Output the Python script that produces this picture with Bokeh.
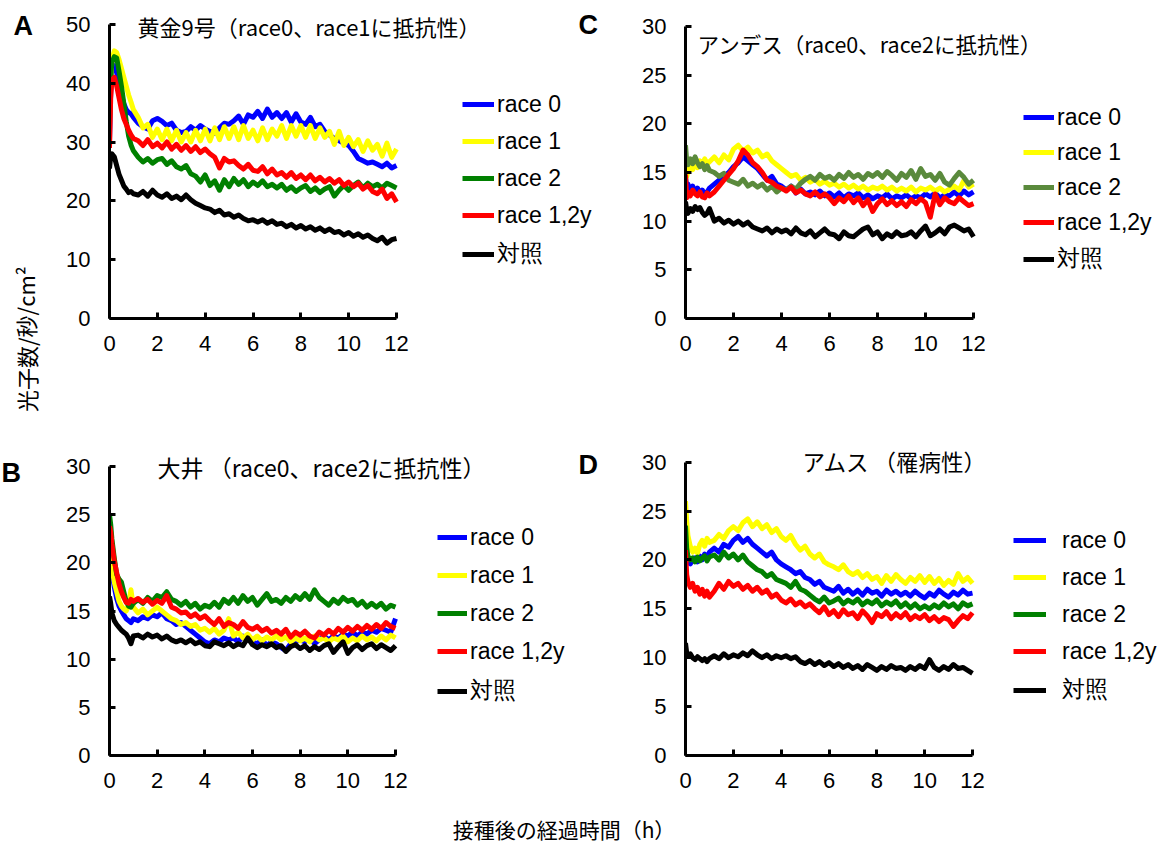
from bokeh.plotting import figure
from bokeh.models import Range1d, Label, Legend, LegendItem, FixedTicker
from bokeh.layouts import column, row
from bokeh.embed import file_html
from bokeh.resources import INLINE

# ---------------- data ----------------
hours = [0, 0.05, 0.1, 0.2, 0.3, 0.4, 0.5, 0.6, 0.7, 0.8, 0.9, 1.0,
         1.2, 1.4, 1.6, 1.8, 2.0,
         2.2, 2.4, 2.6, 2.8, 3.0,
         3.2, 3.4, 3.6, 3.8, 4.0,
         4.2, 4.4, 4.6, 4.8, 5.0,
         5.2, 5.4, 5.6, 5.8, 6.0,
         6.2, 6.4, 6.6, 6.8, 7.0,
         7.2, 7.4, 7.6, 7.8, 8.0,
         8.2, 8.4, 8.6, 8.8, 9.0,
         9.2, 9.4, 9.6, 9.8, 10.0,
         10.2, 10.4, 10.6, 10.8, 11.0,
         11.2, 11.4, 11.6, 11.8, 12.0]

series_names = ["race 0", "race 1", "race 2", "race 1,2y", "対照"]
x_ticks = [0, 2, 4, 6, 8, 10, 12]
y_ticks_a = [0, 10, 20, 30, 40, 50]
y_ticks_bcd = [0, 5, 10, 15, 20, 25, 30]

# A: 黄金9号
a_r0 = [30.0, 38.5, 42.0, 43.0, 42.0, 40.0, 38.0, 36.5, 35.5, 35.0, 34.8, 34.2,
        33.2, 32.6, 32.2, 33.6, 34.0,
        33.5, 32.8, 33.2, 32.0, 31.6,
        31.8, 32.6, 32.0, 32.8, 32.2,
        31.8, 31.5, 32.4, 33.2, 33.0,
        33.6, 34.4, 33.0, 34.6, 34.2,
        35.2, 34.0, 35.6, 34.2, 35.0,
        34.0, 35.0, 33.4, 34.8, 33.4,
        33.0, 34.2, 32.6, 33.0, 31.8,
        31.2, 30.6, 30.2, 29.8, 29.4,
        28.4, 27.2, 26.8, 26.4, 26.6,
        26.2, 25.8, 26.4, 25.6, 26.0]
a_r1 = [33.0, 40.0, 44.0, 45.5, 45.2, 44.0, 42.5, 41.0, 39.5, 38.0, 36.8, 35.5,
        34.2, 32.4, 33.0, 30.8, 32.2,
        30.4, 32.2, 30.2, 32.0, 30.0,
        31.6, 30.0, 32.0, 30.2, 32.2,
        30.2, 32.4, 30.4, 32.6, 30.6,
        32.6, 30.4, 32.8, 30.6, 32.0,
        30.2, 32.4, 30.4, 32.2, 31.0,
        32.8, 30.6, 32.8, 31.0, 32.8,
        30.8, 32.8, 30.6, 32.4, 30.8,
        31.8, 29.6, 31.8, 29.4, 30.8,
        29.2, 30.4, 28.4, 30.2, 28.6,
        29.6, 27.6, 29.8, 27.4, 28.8]
a_r2 = [34.0, 41.0, 43.5, 44.5, 44.3, 42.0, 39.5, 36.5, 33.5, 31.0, 29.5, 28.5,
        27.4, 26.6, 27.2, 26.4, 27.0,
        27.2, 26.2, 26.8, 25.8, 25.4,
        26.0, 24.6, 24.2, 23.2, 24.4,
        22.6, 23.4, 21.8, 23.6, 22.4,
        23.8, 22.8, 23.6, 22.4, 23.2,
        22.6, 23.4, 22.4, 22.8, 22.2,
        22.8, 21.8, 22.4, 21.6, 22.2,
        22.6, 21.6, 22.2, 21.4, 22.0,
        22.4, 20.8, 21.8, 22.6, 21.8,
        22.6, 23.2, 22.2, 23.0, 22.4,
        22.8, 22.2, 23.0, 22.6, 22.2]
a_r12 = [29.0, 37.5, 40.5, 41.0, 39.5, 37.5, 35.5, 34.0, 33.0, 32.0, 31.2, 30.6,
         30.2, 29.4, 30.4, 29.2, 29.8,
         29.0, 30.0, 28.8, 29.6, 28.6,
         29.4, 28.4, 29.2, 28.2, 28.8,
         28.0, 27.4, 25.6, 27.2, 26.6,
         26.8, 26.0, 25.4, 26.2, 25.2,
         25.0, 25.8, 24.6, 25.4, 24.4,
         24.8, 24.0, 24.8, 23.8, 24.4,
         23.6, 24.4, 23.4, 24.0, 23.2,
         23.8, 23.0, 23.6, 22.6, 23.2,
         22.4, 23.0, 22.0, 22.6, 21.6,
         21.2, 22.0, 20.4, 21.2, 19.8]
a_ctrl = [25.5, 27.5, 28.0, 27.5, 26.0, 24.5, 23.5, 22.5, 22.0, 21.4, 21.6, 21.2,
          21.0, 21.6, 20.8, 21.8, 21.0,
          20.6, 21.2, 20.4, 20.8, 20.2,
          21.0, 20.2, 19.6, 19.2, 18.8,
          18.6, 18.0, 18.4, 17.6, 17.8,
          17.2, 17.6, 17.0, 16.6, 16.8,
          16.4, 16.8, 16.2, 16.6, 16.0,
          16.2, 15.6, 16.0, 15.4, 15.8,
          15.2, 15.6, 15.0, 15.4, 14.8,
          15.2, 14.6, 14.8, 14.2, 14.6,
          14.0, 14.4, 13.8, 14.2, 13.6,
          13.2, 13.8, 12.8, 13.4, 13.6]

# B: 大井
b_r0 = [21.5, 20.5, 19.0, 17.5, 16.3, 15.5, 15.0, 14.6, 14.2, 14.0, 13.8, 14.2,
        14.0, 14.4, 14.2, 14.6, 14.4,
        14.8, 14.2, 14.0, 13.6, 13.8,
        13.4, 13.0, 12.6, 12.2, 11.8,
        11.6, 12.0, 11.8, 12.2, 12.0,
        12.2, 11.8, 12.4, 12.0, 11.8,
        11.6, 12.0, 11.4, 11.8, 11.6,
        11.2, 10.9, 11.6, 11.8, 12.0,
        11.8, 12.2, 11.6, 12.0, 12.4,
        12.0, 12.4, 12.2, 12.6, 12.4,
        12.8, 12.4, 12.8, 12.6, 13.0,
        12.8, 13.2, 13.0, 12.8, 14.2]
b_r1 = [22.0, 21.0, 19.5, 18.0, 17.0, 16.0, 15.5, 15.2, 15.0, 15.6, 17.2, 15.4,
        14.8, 15.2, 14.6, 15.0, 15.4,
        15.0, 14.6, 14.2, 14.0, 13.6,
        13.8, 13.4, 13.6, 13.0, 13.2,
        12.8, 13.2, 12.6, 13.0, 14.2,
        12.4, 12.8, 12.2, 12.6, 12.0,
        12.4, 11.9, 12.3, 12.0, 12.4,
        12.0, 12.3, 11.8, 12.2, 11.9,
        12.2, 11.8, 12.4, 12.0, 12.2,
        11.8, 12.2, 12.0, 12.4, 11.8,
        12.2, 11.9, 12.4, 12.0, 12.3,
        11.9, 12.4, 12.0, 12.5, 12.2]
b_r2 = [25.0, 24.0, 22.5, 20.5, 18.8, 18.3, 18.0, 17.0, 16.0, 15.5, 15.4, 15.8,
        16.2, 15.8, 16.4, 16.0, 16.6,
        16.4, 17.0, 16.2, 16.0, 15.6,
        16.0, 15.4, 15.8, 15.2, 15.6,
        15.4, 15.9, 15.4, 16.2, 15.8,
        16.4, 15.8, 16.6, 16.0, 16.4,
        15.6, 16.2, 16.8, 16.0, 16.2,
        15.8, 16.4, 16.0, 16.6, 16.2,
        16.8, 16.2, 17.2, 16.4, 16.0,
        15.6, 16.2, 15.8, 16.4, 16.0,
        16.2, 15.6, 16.0, 15.4, 15.8,
        15.4, 15.8, 15.2, 15.6, 15.4]
b_r12 = [23.8, 23.2, 22.0, 20.2, 19.0, 17.8, 17.0, 16.4, 15.9, 15.8, 16.2, 16.0,
         16.3, 15.9, 16.2, 15.7, 16.1,
         15.8, 16.6, 15.4, 15.2, 14.8,
         14.9, 14.4, 14.7, 14.2, 14.5,
         14.0, 13.6, 14.2, 13.4, 13.8,
         13.6, 13.2, 13.9, 13.3, 13.1,
         13.4, 12.9, 13.2, 12.7, 13.0,
         12.6, 13.1, 12.3, 12.8, 12.5,
         12.9, 12.4, 12.2, 12.8, 12.5,
         13.0, 12.6, 13.2, 12.8, 13.3,
         12.9, 13.4, 13.0, 13.5, 13.1,
         13.6, 13.2, 13.8, 13.4, 13.2]
b_ctrl = [16.5, 15.8, 14.8, 14.0, 13.6, 13.3, 13.0, 12.8, 12.6, 12.2, 11.6, 12.4,
          12.5, 12.2, 12.6, 12.3, 12.5,
          12.1, 12.4, 12.0, 11.8, 12.0,
          11.7, 12.0, 11.6, 11.8, 11.4,
          11.3, 11.8, 11.6, 11.4, 11.7,
          11.3, 11.6, 11.4, 12.2, 11.5,
          11.2, 11.5, 11.3, 11.6, 11.2,
          11.4, 10.8, 11.3, 11.5, 11.1,
          11.4, 10.9, 11.3, 11.0, 11.4,
          11.6, 10.7, 11.3, 11.8, 10.6,
          11.2, 11.5, 11.0, 11.4, 11.6,
          11.1, 11.5, 11.2, 10.9, 11.4]

# C: アンデス
c_r0 = [14.5, 13.5, 13.8, 13.2, 13.6, 13.0, 13.4, 12.8, 13.2, 12.8, 13.0, 13.4,
        13.8, 14.2, 14.6, 15.0, 15.6,
        16.0, 16.6, 16.2, 15.8, 15.4,
        14.8, 14.2, 14.6, 13.8, 13.6,
        13.2, 13.6, 12.9, 13.3, 12.8,
        13.0, 12.7, 13.1, 12.6, 12.9,
        12.5, 12.9, 12.4, 12.8, 12.6,
        12.9, 12.4, 12.7, 12.3, 12.6,
        12.4, 12.8, 12.3, 12.6, 12.4,
        12.7, 12.3, 12.6, 12.4, 12.8,
        12.5, 12.9, 12.4, 12.7, 12.6,
        13.0, 12.6, 13.1, 12.7, 13.0]
c_r1 = [15.0, 14.6, 15.2, 15.6, 15.3, 16.0, 15.5, 16.2, 15.8, 16.4, 15.9, 16.1,
        16.6, 16.0, 16.8, 16.3, 17.4,
        17.8, 17.2, 17.6, 17.0, 17.3,
        16.6, 16.9, 16.2, 15.8, 15.4,
        15.0, 14.6, 14.8, 14.2, 14.5,
        14.0, 14.3, 13.8, 14.1, 13.7,
        13.9, 13.5, 13.8, 13.4, 13.7,
        13.3, 13.6, 13.2, 13.5, 13.3,
        13.6, 13.2, 13.5, 13.1, 13.4,
        13.1, 13.5, 13.0, 13.4, 13.2,
        13.5, 13.1, 13.4, 13.0, 13.3,
        13.6, 13.2, 14.2, 13.5, 13.8]
c_r2 = [17.8, 16.2, 15.8, 16.4, 15.9, 16.6, 16.0, 15.6, 15.9, 15.3, 15.7, 15.2,
        15.0, 14.6, 14.9, 14.2, 14.0,
        13.8, 14.3, 13.6, 13.9, 13.5,
        13.8, 13.2, 13.6, 13.0, 13.4,
        13.2, 13.6, 13.3, 13.9, 14.3,
        14.6, 14.2, 14.8, 14.4, 14.6,
        14.2, 14.8, 14.4, 15.0, 14.5,
        14.8, 14.3, 14.9, 14.6, 15.0,
        14.5, 15.1, 14.7, 14.2, 14.9,
        14.5, 15.2, 14.3, 15.4, 14.6,
        14.8, 14.2, 14.9, 14.0, 13.7,
        14.4, 15.0, 14.5, 13.8, 14.2]
c_r12 = [14.8, 12.4, 13.0, 12.6, 13.2, 12.8, 12.6, 13.0, 12.5, 12.4, 12.9, 12.6,
         13.0, 13.6, 14.2, 14.8, 15.4,
         16.2, 17.3, 16.8, 16.0, 15.6,
         15.0, 14.2, 14.0, 13.6, 13.4,
         13.1, 13.5, 12.9, 13.2, 12.8,
         12.6, 13.0, 12.5, 12.8, 12.4,
         11.8, 12.4, 12.0, 12.6, 11.9,
         12.4, 11.6, 12.2, 11.0, 11.8,
         12.3, 11.7, 12.1, 11.6, 12.0,
         11.5, 12.2, 11.8, 12.3, 11.9,
         10.4, 12.8, 11.7, 12.4, 12.0,
         11.8, 12.4, 12.0, 11.6, 11.8]
c_ctrl = [12.0, 11.2, 10.8, 11.3, 11.0, 11.5, 11.2, 11.4, 10.9, 10.6, 10.8, 11.3,
          10.0, 10.3, 9.8, 10.1, 9.7,
          10.0, 9.6, 9.9, 9.4, 9.2,
          9.0, 9.3, 8.8, 9.2, 8.9,
          9.1, 8.7, 9.3, 8.8, 8.6,
          9.0, 8.4, 8.8, 9.2, 8.7,
          8.6, 8.2, 8.9, 8.5, 8.4,
          8.8, 9.2, 9.4, 8.6, 8.9,
          8.2, 8.7, 8.4, 8.9, 8.5,
          8.6, 8.9, 8.4, 9.0, 9.5,
          8.5, 8.8, 9.2, 8.7, 9.4,
          9.6, 9.3, 9.0, 9.2, 8.4]

# D: アムス
d_r0 = [22.5, 20.5, 19.8, 19.6, 20.0, 20.2, 19.8, 20.4, 20.0, 20.6, 20.2, 20.8,
        21.2, 20.8, 21.6, 21.3, 22.0,
        22.4, 21.8, 22.2, 21.6, 21.2,
        20.8, 20.4, 20.8, 20.0, 19.6,
        19.3, 19.0, 18.6, 18.8, 18.2,
        18.0, 17.5, 17.8, 17.2, 17.0,
        16.8, 17.3, 16.6, 17.0, 16.5,
        16.9, 16.4, 17.0, 16.6, 16.8,
        16.3, 16.9, 16.5, 16.8, 16.4,
        16.7, 16.3, 16.8, 16.4, 16.1,
        16.6, 16.3, 16.9, 16.5, 16.2,
        16.7, 16.4, 16.9, 16.5, 16.6]
d_r1 = [26.0, 24.0, 22.5, 21.4, 20.8, 21.2, 20.7, 21.6, 22.0, 21.4, 22.2, 21.8,
        22.0, 22.6, 22.2, 23.0, 23.4,
        23.0, 23.8, 24.2, 23.4, 23.9,
        23.2, 23.6, 22.8, 23.2, 22.4,
        22.0, 22.5, 21.6, 21.0, 21.4,
        20.6, 20.2, 20.6, 19.8, 19.5,
        19.3, 19.0, 19.5, 18.8, 18.5,
        18.8, 18.2, 18.6, 18.0, 18.3,
        17.6, 18.4, 17.8, 18.5, 18.0,
        17.6, 18.2, 17.8, 18.4, 17.7,
        18.3, 17.6, 18.1, 17.4, 17.9,
        17.5, 18.6, 17.8, 18.2, 17.6]
d_r2 = [23.5, 21.2, 20.4, 20.0, 20.2, 19.8, 20.3, 19.9, 20.2, 20.4, 19.9, 20.3,
        20.5, 20.0, 20.8, 20.2, 20.6,
        20.0, 20.5, 19.8, 19.4, 19.0,
        18.8, 18.3, 18.6, 18.0, 17.8,
        17.6, 17.2, 17.8, 17.0, 16.8,
        16.4, 16.0, 15.7, 16.2, 15.6,
        15.8, 16.1, 15.5, 15.9, 15.6,
        16.0, 15.4, 15.8, 15.5, 15.9,
        15.3, 15.7, 15.4, 15.8, 15.2,
        15.6, 15.1, 15.5, 15.0, 15.3,
        15.0, 15.4, 15.1, 15.6, 15.2,
        15.5, 15.0, 15.6, 15.3, 15.5]
d_r12 = [21.0, 18.5, 17.8, 17.2, 17.6, 16.8, 17.2, 16.5, 17.0, 16.3, 16.8, 16.2,
         16.8, 17.6, 17.0, 17.8, 17.3,
         17.6, 17.0, 17.4, 16.8, 17.2,
         16.6, 16.9, 16.2, 16.5, 15.9,
         15.6, 16.0, 15.4, 15.7, 15.2,
         15.5, 15.0, 14.6, 15.2, 14.4,
         14.8, 14.2, 14.9, 14.4, 14.6,
         14.0, 14.8, 14.3, 13.6, 14.5,
         14.2, 14.7, 14.0, 14.5, 14.1,
         14.6, 13.9, 14.3, 14.0, 14.4,
         13.8, 14.2, 13.7, 14.1, 13.9,
         13.2, 13.8, 14.3, 14.0, 14.6]
d_ctrl = [11.5, 10.5, 10.2, 10.4, 10.0, 9.8, 10.1, 9.9, 9.7, 9.9, 9.6, 9.9,
          10.2, 9.9, 10.4, 10.0, 10.3,
          10.1, 10.5, 10.2, 10.7, 10.3,
          10.0, 10.3, 9.9, 10.2, 10.0,
          10.2, 9.9, 10.1, 9.6, 9.4,
          9.7, 9.3, 9.6, 9.2, 9.5,
          9.1, 9.4, 9.0, 9.3, 8.9,
          9.2, 8.8, 9.3, 9.0, 8.7,
          9.1, 8.8, 9.2, 8.9, 9.0,
          8.7, 9.1, 8.8, 9.2, 8.9,
          9.8, 9.0, 8.7, 9.1, 8.8,
          9.3, 8.9, 9.0, 8.7, 8.4]

colors_std = ["#0000FF", "#FFFF00", "#008000", "#FF0000", "#000000"]
colors_c = ["#0000FF", "#FFFF00", "#5A8A3C", "#FF0000", "#000000"]

SANS = "Liberation Sans"
CJK = "Noto Sans CJK JP"

ROW1_H = 420          # height of the top row (panels A, C)
ROW2_H = 385          # height of the bottom row (panels B, D)
XLAB_H = 843 - ROW1_H - ROW2_H   # strip holding the shared x-axis title


def add_text(p, x, y, text, font, size, align="left", baseline="middle",
             style="normal", angle=0.0):
    p.add_layout(Label(x=x, y=y, x_units="screen", y_units="screen", text=text,
                       text_font=font, text_font_size=size, text_font_style=style,
                       text_color="black", text_align=align, text_baseline=baseline,
                       angle=angle))


def panel(box, frame_left, frame_bottom, x12_px, ytop_px, ymax, yticks, data, colors,
          leg_xy, glyph_w, standoff, spacing, title, title_xy, title_size):
    x0, y0, W, H = box
    # the frame runs from the y-axis to the right edge and from the top edge to the x-axis
    x_end = 12.0 * (x0 + W - frame_left) / (x12_px - frame_left)
    y_end = ymax * (frame_bottom - y0) / (frame_bottom - ytop_px)
    p = figure(width=W, height=H, x_range=Range1d(0, x_end), y_range=Range1d(0, y_end),
               output_backend="svg", toolbar_location=None, title=None,
               min_border_left=frame_left - x0, min_border_right=0,
               min_border_top=0, min_border_bottom=y0 + H - frame_bottom)
    p.grid.visible = False
    p.outline_line_color = None
    for ax in (p.xaxis[0], p.yaxis[0]):
        ax.axis_line_width = 3
        ax.axis_line_color = "black"
        ax.major_tick_line_width = 3
        ax.major_tick_line_color = "black"
        ax.major_tick_in = 6
        ax.major_tick_out = 0
        ax.minor_tick_line_color = None
        ax.major_label_text_font = SANS
        ax.major_label_text_font_size = "22px"
        ax.major_label_text_color = "black"
    p.xaxis[0].ticker = FixedTicker(ticks=x_ticks)
    p.yaxis[0].ticker = FixedTicker(ticks=yticks)
    p.xaxis[0].bounds = (0, 12)
    p.yaxis[0].bounds = (0, ymax)
    p.xaxis[0].major_label_standoff = 17
    p.yaxis[0].major_label_standoff = 19

    rends = []
    for ys, c in zip(data, colors):
        rends.append(p.line(hours, ys, line_color=c, line_width=5, line_join="round"))

    items = [LegendItem(label=n, renderers=[r]) for n, r in zip(series_names, rends)]
    legend = Legend(items=items, location=leg_xy, orientation="vertical",
                    glyph_width=glyph_w, glyph_height=28, label_height=28,
                    label_standoff=standoff, spacing=spacing, padding=0, margin=0,
                    border_line_color=None, background_fill_alpha=0,
                    label_text_font=SANS, label_text_font_size="23px",
                    label_text_color="black")
    p.add_layout(legend)
    add_text(p, title_xy[0] - frame_left, frame_bottom - title_xy[1], title, CJK, title_size)
    return p


# page geometry (pixels): A/B column x 58..600, C/D column x 600..1170
pA = panel((58, 0, 542, ROW1_H), 109, 320, 396, 24, 50, y_ticks_a,
           [a_r0, a_r1, a_r2, a_r12, a_ctrl], colors_std,
           (353, 49), 32, 3, 9,
           "黄金9号（race0、race1に抵抗性）", (137, 27.5), "22px")
add_text(pA, 578 - 109, 320 - 26, "C", SANS, "27px", style="bold")

pC = panel((600, 0, 570, ROW1_H), 685, 318, 973, 26, 30, y_ticks_bcd,
           [c_r0, c_r1, c_r2, c_r12, c_ctrl], colors_c,
           (338, 44), 31, 3, 7,
           "アンデス（race0、race2に抵抗性）", (697, 42.5), "21.5px")

pB = panel((58, ROW1_H, 542, ROW2_H), 109, 755, 395, 466, 30, y_ticks_bcd,
           [b_r0, b_r1, b_r2, b_r12, b_ctrl], colors_std,
           (328, 49), 30, 3, 10,
           "大井 （race0、race2に抵抗性）", (157, 466), "23px")
add_text(pB, 578 - 109, 755 - 464, "D", SANS, "27px", style="bold")

pD = panel((600, ROW1_H, 570, ROW2_H), 685, 758, 972, 462, 30, y_ticks_bcd,
           [d_r0, d_r1, d_r2, d_r12, d_ctrl], colors_std,
           (328, 50), 33, 16, 9,
           "アムス （罹病性）", (802, 463.5), "22.5px")

# left strip: panel letters A, B and the shared y-axis title
STRIP_H = ROW1_H + ROW2_H
strip = figure(width=58, height=STRIP_H, x_range=Range1d(0, 1), y_range=Range1d(0, 1),
               output_backend="svg", toolbar_location=None, title=None,
               x_axis_location=None, y_axis_location=None, min_border=0)
strip.grid.visible = False
strip.outline_line_color = None
add_text(strip, 13, STRIP_H - 25, "A", SANS, "27px", style="bold")
add_text(strip, 1, STRIP_H - 472.5, "B", SANS, "27px", style="bold")
add_text(strip, 25, STRIP_H - 339, "光子数/秒/cm²", CJK, "22px", align="center", angle=1.5708)

# bottom strip with the shared x-axis title
pL = figure(width=1170, height=XLAB_H, x_range=Range1d(0, 1), y_range=Range1d(0, 1),
            output_backend="svg", toolbar_location=None, title=None,
            x_axis_location=None, y_axis_location=None, min_border=0)
pL.grid.visible = False
pL.outline_line_color = None
add_text(pL, 563.5, 843 - 828, "接種後の経過時間（h）", CJK, "21px", align="center")

layout = column(row(strip, column(row(pA, pC), row(pB, pD))), pL)

with open("out.html", "w") as f:
    f.write(file_html(layout, INLINE, "chart"))
